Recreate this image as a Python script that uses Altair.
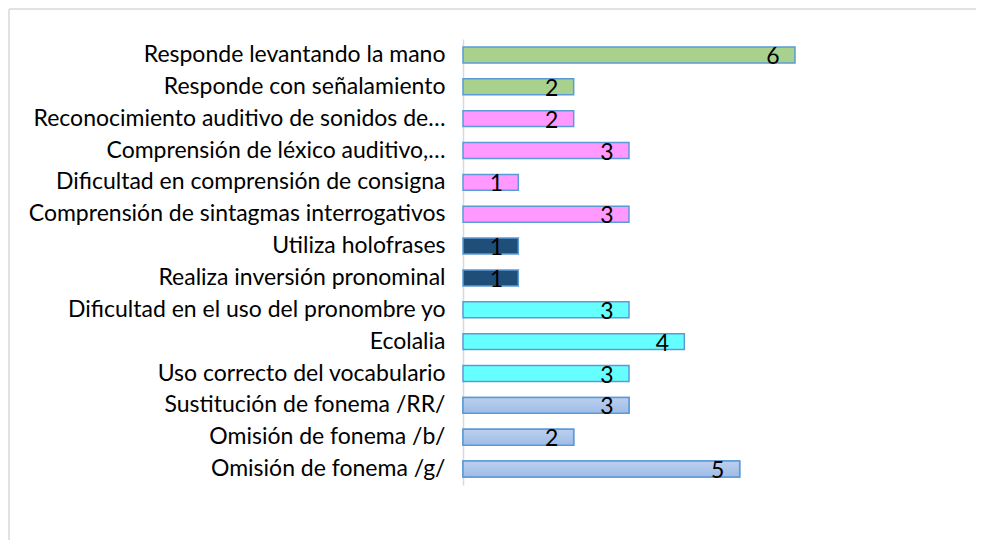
import altair as alt
import pandas as pd

categories = [
    "Responde levantando la mano",
    "Responde con señalamiento",
    "Reconocimiento auditivo de sonidos de…",
    "Comprensión de léxico auditivo,…",
    "Dificultad en comprensión de consigna",
    "Comprensión de sintagmas interrogativos",
    "Utiliza holofrases",
    "Realiza inversión pronominal",
    "Dificultad en el uso del pronombre yo",
    "Ecolalia",
    "Uso correcto del vocabulario",
    "Sustitución de fonema /RR/",
    "Omisión de fonema /b/",
    "Omisión de fonema /g/",
]
values = [6, 2, 2, 3, 1, 3, 1, 1, 3, 4, 3, 3, 2, 5]
groups = ["g1", "g1", "g2", "g2", "g2", "g2", "g3", "g3", "g4", "g4", "g4", "g5", "g5", "g5"]
group_names = ["g1", "g2", "g3", "g4", "g5"]
group_colors = ["#A9D18E", "#FF99FF", "#1F4E79", "#66FFFF", "#AEC7EC"]

df = pd.DataFrame({"cat": categories, "val": values, "grp": groups})

FONT = "Lato"
FS = 23

y_enc = alt.Y("cat:N", sort=categories,
              scale=alt.Scale(paddingInner=0.5, paddingOuter=0.25),
              axis=alt.Axis(title=None, ticks=False, labelPadding=18,
                            labelFont=FONT, labelFontSize=FS, labelColor="#000000",
                            labelLimit=600, domainColor="#D9D9D9", domainWidth=1.5))
x_enc = alt.X("val:Q", scale=alt.Scale(domain=[0, 6], nice=False), axis=None)

bars = alt.Chart(df).mark_bar(stroke="#5B9BD5", strokeWidth=1.5).encode(
    y=y_enc, x=x_enc,
    color=alt.Color("grp:N", scale=alt.Scale(domain=group_names, range=group_colors), legend=None),
)

grad_bars = alt.Chart(df).transform_filter(alt.datum.grp == "g5").mark_bar(
    stroke="#5B9BD5", strokeWidth=1.5,
    color=alt.Gradient(gradient="linear", x1=0, y1=0, x2=0, y2=1,
                       stops=[alt.GradientStop(color="#BCD0EF", offset=0),
                              alt.GradientStop(color="#9EBCE6", offset=1)]),
).encode(y=y_enc, x=x_enc)

labels = alt.Chart(df).mark_text(font=FONT, fontSize=FS, color="#000000", align="center",
                                 baseline="alphabetic", dx=-22, dy=9).encode(
    y=y_enc, x=x_enc, text=alt.Text("val:Q"))

frame = alt.Data(values=[{}])
top_rule = alt.Chart(frame).mark_rule(color="#D9D9D9", strokeWidth=1.5).encode(
    x=alt.value(-454), x2=alt.value(520), y=alt.value(-30))
left_rule = alt.Chart(frame).mark_rule(color="#D9D9D9", strokeWidth=1.5).encode(
    x=alt.value(-454), y=alt.value(-30), y2=alt.value(510))

chart = alt.layer(top_rule, left_rule, bars, grad_bars, labels).properties(
    width=332, height=446,
    background="#FFFFFF",
    autosize=alt.AutoSizeParams(type="none"),
    padding={"left": 455, "top": 31, "right": 181, "bottom": 55},
).configure_view(stroke=None)

chart.save("out.html", embed_options={"renderer": "svg", "actions": False})
